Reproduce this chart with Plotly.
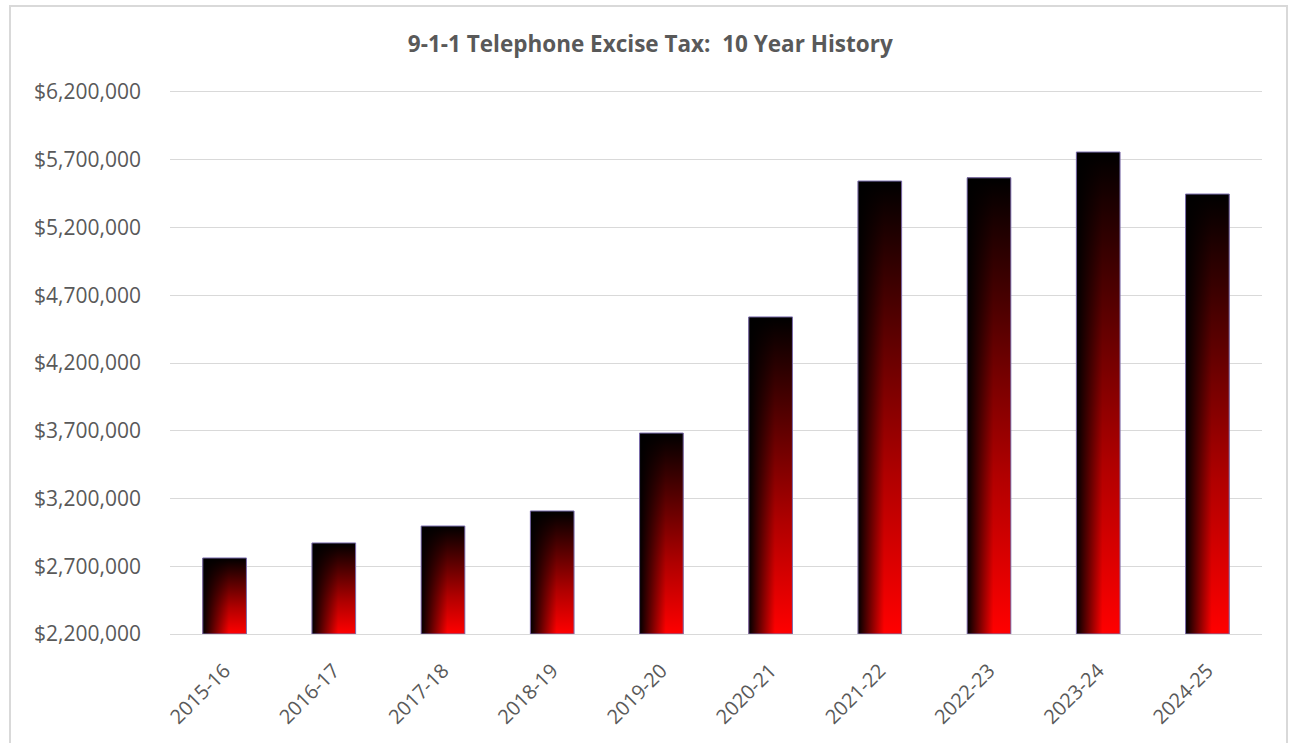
import plotly.graph_objects as go

categories = ["2015-16", "2016-17", "2017-18", "2018-19", "2019-20",
              "2020-21", "2021-22", "2022-23", "2023-24", "2024-25"]
tax_revenue = [2761000, 2872000, 2997000, 3108000, 3683000,
               4540000, 5543000, 5567000, 5757000, 5447000]
y_ticks = [2200000, 2700000, 3200000, 3700000, 4200000,
           4700000, 5200000, 5700000, 6200000]
y_tick_labels = ["${:,}".format(v) for v in y_ticks]
title_text = "9-1-1 Telephone Excise Tax:\u00a0 10 Year History"

BAR_W = 0.4
FONT = "Open Sans"
GRAY = "#595959"
GRID = "#d9d9d9"

positions = list(range(len(categories)))
base = y_ticks[0]

fig = go.Figure()

# underlying bar trace (data)
fig.add_trace(go.Bar(
    x=positions, y=tax_revenue, width=BAR_W,
    marker=dict(color="#7a0000", line=dict(width=0)),
    showlegend=False, hovertemplate="%{y:$,.0f}<extra></extra>",
))

# gradient overlays computed from the same data
for i, v in zip(positions, tax_revenue):
    xs = [i - BAR_W / 2, i + BAR_W / 2, i + BAR_W / 2, i - BAR_W / 2, i - BAR_W / 2]
    ys = [base, base, v, v, base]
    fig.add_trace(go.Scatter(
        x=xs, y=ys, mode="lines", fill="toself",
        line=dict(width=0, color="rgba(0,0,0,0)"),
        fillgradient=dict(type="vertical",
                          colorscale=[[0, "#ff0000"], [0.35, "#b00000"], [1, "#000000"]]),
        hoverinfo="skip", showlegend=False,
    ))
    fig.add_trace(go.Scatter(
        x=xs, y=ys, mode="lines", fill="toself",
        line=dict(width=1, color="#7d70b0"),
        fillgradient=dict(type="horizontal",
                          colorscale=[[0, "rgba(0,0,0,1)"], [0.6, "rgba(0,0,0,0)"],
                                      [1, "rgba(0,0,0,0)"]]),
        hoverinfo="skip", showlegend=False,
    ))

fig.update_layout(
    width=1289, height=743,
    margin=dict(l=170, r=27, t=92, b=109),
    paper_bgcolor="white", plot_bgcolor="white",
    title=dict(text="<b>" + title_text + "</b>", x=0.5045, xanchor="center",
               y=1 - 44 / 743, yref="container", yanchor="middle",
               font=dict(family=FONT, size=22.5, color=GRAY)),
    font=dict(family=FONT, color=GRAY),
    xaxis=dict(range=[-0.5, len(categories) - 0.5], tickvals=positions,
               ticktext=categories, tickangle=-45, showgrid=False,
               zeroline=False, showline=True, mirror=True, linecolor=GRID,
               linewidth=1.3, ticks="", ticklabelstandoff=16,
               tickfont=dict(family=FONT, size=20, color=GRAY)),
    yaxis=dict(range=[y_ticks[0], y_ticks[-1]], tickvals=y_ticks,
               ticktext=y_tick_labels, showgrid=True, gridcolor=GRID,
               gridwidth=1.3, zeroline=False, showline=False, ticks="",
               ticklabelstandoff=28,
               tickfont=dict(family=FONT, size=21, color=GRAY)),
    shapes=[dict(type="rect", xref="paper", yref="paper",
                 x0=(10 - 170) / 1092, x1=(1287 - 170) / 1092,
                 y0=(634 - 760) / 542, y1=(634 - 6) / 542,
                 line=dict(color=GRID, width=2), layer="below")],
    hovermode="closest",
)

fig.write_html("out.html", config={"displayModeBar": False},
               post_script="document.body.style.margin='0';document.body.style.overflow='hidden';")
